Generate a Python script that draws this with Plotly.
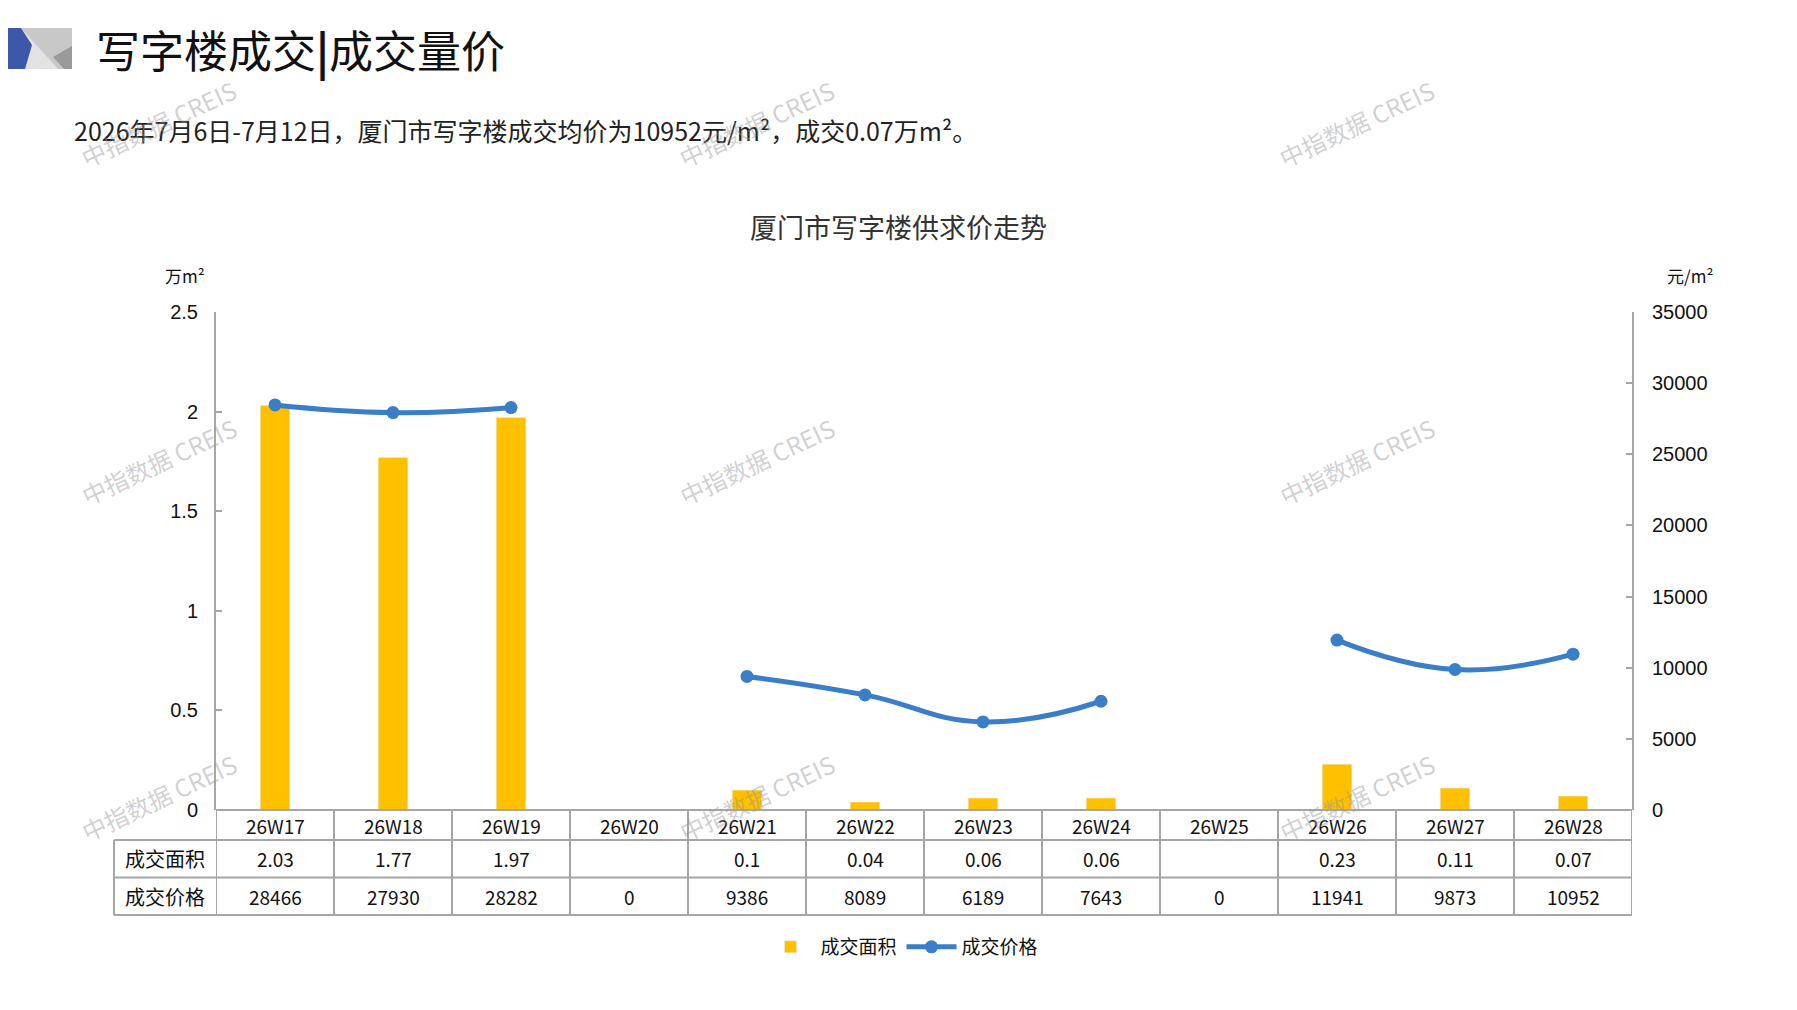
import plotly.graph_objects as go

# data
weeks = ["26W17", "26W18", "26W19", "26W20", "26W21", "26W22",
         "26W23", "26W24", "26W25", "26W26", "26W27", "26W28"]
area = [2.03, 1.77, 1.97, None, 0.1, 0.04, 0.06, 0.06, None, 0.23, 0.11, 0.07]
price = [28466, 27930, 28282, 0, 9386, 8089, 6189, 7643, 0, 11941, 9873, 10952]

area_name = "成交面积"
price_name = "成交价格"

CJK = "Noto Sans CJK SC"
NUM = "Liberation Sans"
GRID = "#A6A6A6"

# plot box in screen pixels; page body has an 8px margin
W, H, OFF = 1797, 1010, 8
L, R, T, B = 216, 1632, 312, 810


def px(X):
    return (X - L) / (R - L)


def py(Y):
    return (B - Y) / (B - T)


def note(X, Y, text, size, color="#111111", family=CJK, xanchor="center", **kw):
    return dict(x=px(X), xref="paper", y=py(Y), yref="paper", text=text,
                xanchor=xanchor, yanchor="middle", showarrow=False,
                font=dict(family=family, size=size, color=color), **kw)


fig = go.Figure()

fig.add_trace(go.Bar(
    x=weeks, y=area, name=area_name,
    marker=dict(color="#FFC000"), width=0.25,
))

# zero price means no deal that week -> no point on the line
price_line = [p if p else None for p in price]
fig.add_trace(go.Scatter(
    x=weeks, y=price_line, name=price_name, yaxis="y2",
    mode="lines+markers", connectgaps=False,
    line=dict(color="#3A7EC8", width=5, shape="spline", smoothing=1.3),
    marker=dict(color="#3A7EC8", size=13),
))

shapes = []
annots = []

# table lines
rows = [810, 840, 877.5, 915]
line_st = dict(color=GRID, width=2)
shapes.append(dict(type="line", xref="paper", yref="paper",
                   x0=0, x1=1, y0=py(rows[0]), y1=py(rows[0]), line=line_st))
for r in rows[1:]:
    shapes.append(dict(type="line", xref="paper", yref="paper",
                       x0=px(114), x1=1, y0=py(r), y1=py(r), line=line_st))
shapes.append(dict(type="line", xref="paper", yref="paper",
                   x0=px(114), x1=px(114), y0=py(rows[1]), y1=py(rows[3]), line=line_st))
for i in range(len(weeks) + 1):
    shapes.append(dict(type="line", xref="x", yref="paper",
                       x0=i - 0.5, x1=i - 0.5, y0=py(rows[0]), y1=py(rows[3]), line=line_st))

cell_font = dict(family=CJK, size=19, color="#111111")
for i, w in enumerate(weeks):
    for yy, txt in [(825, w),
                    (858.5, "" if area[i] is None else str(area[i])),
                    (896, str(price[i]))]:
        annots.append(dict(x=w, xref="x", y=py(yy), yref="paper", text=txt,
                           xanchor="center", yanchor="middle",
                           showarrow=False, font=cell_font))
annots.append(note(165, 858.5, area_name, 20))
annots.append(note(165, 896, price_name, 20))

# axis units
annots.append(note(185, 275, "万m²", 17))
annots.append(note(1690, 275, "元/m²", 17))

# titles
annots.append(note(94, 49, "写字楼成交<b>|</b>成交量价", 44, xanchor="left"))
annots.append(note(72, 130, "2026年7月6日-7月12日，厦门市写字楼成交均价为10952元/m²，成交0.07万m²。",
                   25, color="#222222", xanchor="left"))
annots.append(note(898, 226, "厦门市写字楼供求价走势", 27, color="#333333"))

# watermarks
for wx in [158, 756, 1356]:
    for wy in [124, 461, 797]:
        annots.append(note(wx, wy, "中指数据 CREIS", 24,
                           color="rgba(150,150,150,0.45)", textangle=-25))

# logo
logo = [
    ([(21, 28), (72, 28), (72, 69), (21, 69)], "#C8C8C8"),
    ([(21, 28), (58, 69), (21, 69)], "#E3E3E3"),
    ([(72, 46), (53, 57), (64, 69), (72, 69)], "#9A9A9A"),
    ([(0, 28), (21, 28), (32, 45), (25, 69), (0, 69)], "#3D58A8"),
]
for pts, col in logo:
    path = "M " + " L ".join("{} {}".format(px(X), py(Y)) for X, Y in pts) + " Z"
    shapes.append(dict(type="path", xref="paper", yref="paper",
                       path=path, fillcolor=col, line=dict(width=0)))

fig.update_layout(
    width=W - 2 * OFF, height=H - 2 * OFF,
    margin=dict(l=L - OFF, r=W - OFF - R, t=T - OFF, b=H - OFF - B),
    plot_bgcolor="white", paper_bgcolor="white",
    showlegend=True,
    legend=dict(orientation="h", x=px(902), y=py(947), xanchor="center", yanchor="middle",
                font=dict(family=CJK, size=19, color="#111"), itemwidth=50,
                traceorder="normal"),
    xaxis=dict(range=[-0.5, 11.5], showticklabels=False, showline=False,
               showgrid=False, zeroline=False, ticks=""),
    yaxis=dict(range=[0, 2.5], dtick=0.5, showgrid=False, zeroline=False,
               showline=True, linecolor=GRID, linewidth=2,
               ticks="inside", ticklen=6, tickcolor=GRID, tickwidth=2,
               tickfont=dict(family=NUM, size=20, color="#111"), ticklabelstandoff=12),
    yaxis2=dict(range=[0, 35000], dtick=5000, tickformat="d", overlaying="y", side="right",
                showgrid=False, zeroline=False,
                showline=True, linecolor=GRID, linewidth=2,
                ticks="inside", ticklen=6, tickcolor=GRID, tickwidth=2,
                tickfont=dict(family=NUM, size=20, color="#111"), ticklabelstandoff=14),
    shapes=shapes,
    annotations=annots,
)

fig.write_html("out.html")
